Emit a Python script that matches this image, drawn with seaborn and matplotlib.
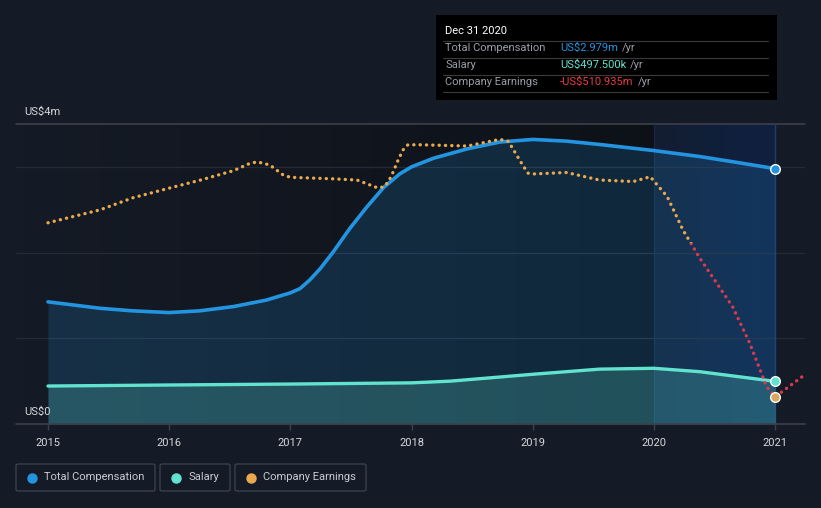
import numpy as np
import pandas as pd
import matplotlib
matplotlib.use('Agg')
import matplotlib.pyplot as plt
import seaborn as sns
from matplotlib.patches import Rectangle, FancyBboxPatch
from matplotlib.lines import Line2D

sns.set_theme(style='dark')
plt.rcParams['font.family'] = ['Roboto', 'DejaVu Sans']

# ------------------------------------------------------------
# data
# ------------------------------------------------------------
comp_years = [2015, 2015.43, 2015.70, 2016, 2016.25, 2016.53, 2016.80, 2017,
              2017.08, 2017.16, 2017.245, 2017.355, 2017.49, 2017.63, 2017.77,
              2017.905, 2018, 2018.18, 2018.46, 2018.73, 2019, 2019.28, 2019.56,
              2020, 2020.38, 2020.65, 2021]
comp_vals = [1.425, 1.35, 1.32, 1.30, 1.32, 1.37, 1.445, 1.53,
             1.58, 1.68, 1.81, 2.01, 2.28, 2.53, 2.76,
             2.92, 3.0, 3.10, 3.21, 3.29, 3.32, 3.30, 3.26,
             3.19, 3.12, 3.06, 2.979]  # US$m

salary_years = [2015, 2016, 2017, 2018, 2018.32, 2019, 2019.55, 2020, 2020.38, 2021]
salary_vals = [0.443, 0.455, 0.466, 0.48, 0.50, 0.58, 0.64, 0.65, 0.61, 0.4975]  # US$m

earn_years = [2015, 2015.43, 2015.70, 2016.0, 2016.26, 2016.53, 2016.67, 2016.73,
              2016.83, 2016.94, 2017.0, 2017.35, 2017.55, 2017.72, 2017.77, 2017.81,
              2017.85, 2017.89, 2017.93, 2017.97, 2018.07, 2018.46, 2018.73, 2018.80,
              2018.90, 2018.96, 2019.0, 2019.28, 2019.55, 2019.83, 2019.97, 2020.11,
              2020.24, 2020.38, 2020.65, 2020.79, 2020.93, 2021.0, 2021.23]
earn_vals = [67, 110, 150, 182, 209, 240, 265, 269,
             259, 226, 218, 213, 209, 183, 186, 204,
             237, 276, 309, 326, 326, 322, 344, 337,
             270, 232, 229, 234, 209, 204, 220, 154,
             43, -51, -212, -332, -477, -511, -442]  # US$m

year_ticks = [2015, 2016, 2017, 2018, 2019, 2020, 2021]

comp_df = pd.DataFrame({'year': comp_years, 'value': comp_vals})
salary_df = pd.DataFrame({'year': salary_years, 'value': salary_vals})
earn_df = pd.DataFrame({'year': earn_years, 'value': earn_vals})

# ------------------------------------------------------------
# colours
# ------------------------------------------------------------
BG = '#151b26'
BLUE = '#2394df'
TEAL = '#62e3cf'
ORANGE = '#e8a94f'
RED = '#dc3a4c'
GRID = '#252b36'
AXLINE = '#3b404a'
TXT = '#d5d8dc'
GREY = '#9a9ea6'

W, H = 821, 508
fig = plt.figure(figsize=(W / 100, H / 100), dpi=100, facecolor=BG)

def fx(px):
    return px / W

def fy(py):
    return 1 - py / H

XMIN, XMAX = 2014.736, 2021.247
YMAX = 3.5

ax = fig.add_axes([fx(16), fy(424), fx(805) - fx(16), fy(124) - fy(424)])
ax.set_facecolor(BG)
ax.set_xlim(XMIN, XMAX)
ax.set_ylim(0, YMAX)

# darker past region (gradient) + highlighted last year band
grad = np.zeros((2, 256, 4))
grad[..., 3] = np.linspace(0.0, 0.38, 256)[None, :]
ax.imshow(grad, extent=[XMIN, 2020, 0, YMAX], aspect='auto', zorder=0.5,
          interpolation='bilinear')
band = np.zeros((2, 256, 4))
band[..., 0] = 0.04
band[..., 1] = 0.15
band[..., 2] = 0.36
band[..., 3] = np.linspace(0.22, 0.5, 256)[None, :]
ax.imshow(band, extent=[2020, 2021, 0, YMAX], aspect='auto', zorder=0.6,
          interpolation='bilinear')

# grid lines
for g in [1, 2, 3]:
    ax.axhline(g, color=GRID, lw=0.9, zorder=1)
ax.axhline(YMAX, color=AXLINE, lw=1.2, zorder=1, clip_on=False)
ax.axhline(0, color=AXLINE, lw=1.2, zorder=6, clip_on=False)
ax.axvline(2020, color='#1b2b42', lw=0.8, zorder=1)
ax.axvline(2021, color='#1f3d66', lw=1.0, zorder=1)

# fills
ax.fill_between(comp_years, comp_vals, color=BLUE, alpha=0.18, lw=0, zorder=2)
ax.fill_between(salary_years, salary_vals, color=TEAL, alpha=0.22, lw=0, zorder=3)

# lines
sns.lineplot(data=comp_df, x='year', y='value', ax=ax, color=BLUE, lw=2.6, zorder=5)
sns.lineplot(data=salary_df, x='year', y='value', ax=ax, color=TEAL, lw=2.4, zorder=5)
for ln in ax.lines[-2:]:
    ln.set_solid_joinstyle('round')

# earnings on a separate (hidden) scale
ax2 = ax.twinx()
ax2.set_ylim(-601, 395)
ax2.set_xlim(XMIN, XMAX)
ax2.patch.set_visible(False)
for side in ax2.spines.values():
    side.set_visible(False)
ax2.set_yticks([])
ax2.set_ylabel('')

for col, lo, hi in [(ORANGE, 0, 2000), (RED, -2000, 0)]:
    sns.lineplot(data=earn_df, x='year', y='value', ax=ax2, color=col, lw=2.4,
                 zorder=4)
    ln = ax2.lines[-1]
    ln.set_linestyle((0, (0.05, 1.85)))
    ln.set_dash_capstyle('round')
    clip = Rectangle((XMIN, lo), XMAX - XMIN, hi - lo, transform=ax2.transData)
    ln.set_clip_path(clip)

# end markers
ax.scatter([comp_years[-1]], [comp_vals[-1]], s=48, color=BLUE, edgecolor='white',
           linewidth=1.0, zorder=10)
ax.scatter([salary_years[-1]], [salary_vals[-1]], s=48, color=TEAL, edgecolor='white',
           linewidth=1.0, zorder=10)
ax2.scatter([2021.0], [earn_vals[earn_years.index(2021.0)]], s=48, color='#d9a560',
            edgecolor='white', linewidth=1.0, zorder=10)

# axes styling
for side in ax.spines.values():
    side.set_visible(False)
ax.set_xticks(year_ticks)
ax.set_xticklabels([str(y) for y in year_ticks], color=TXT, fontsize=8)
ax.set_yticks([])
ax.set_xlabel('')
ax.set_ylabel('')
ax.tick_params(axis='x', length=4, width=1, color=AXLINE, pad=6, bottom=True)
ax.grid(False)
ax2.grid(False)

fig.text(fx(24), fy(112), 'US$4m', color=TXT, fontsize=8, va='center', ha='left')
fig.text(fx(24), fy(412), 'US$0', color=TXT, fontsize=8, va='center', ha='left')

# tooltip box
fig.add_artist(Rectangle((fx(436), fy(100)), fx(777) - fx(436), fy(15) - fy(100),
                         transform=fig.transFigure, facecolor='black', edgecolor='none',
                         zorder=20))
fig.text(fx(445), fy(31), 'Dec 31 2020', color='white', fontsize=8, va='center',
         zorder=21)
for ly in [40.5, 57.5, 74.5, 91.5]:
    fig.add_artist(Line2D([fx(443), fx(768)], [fy(ly), fy(ly)], color='#3a3a3a',
                          lw=0.8, transform=fig.transFigure, zorder=21))
rows = [('Total Compensation', 'US$2.979m', BLUE, 48),
        ('Salary', 'US$497.500k', TEAL, 65),
        ('Company Earnings', '-US$510.935m', '#e83c44', 82)]
renderer = fig.canvas.get_renderer()
for label, val, col, ry in rows:
    fig.text(fx(445), fy(ry), label, color=GREY, fontsize=8, va='center', zorder=21)
    t = fig.text(fx(560), fy(ry), val, color=col, fontsize=8, va='center', zorder=21)
    x_end = t.get_window_extent(renderer=renderer).x1
    fig.text((x_end + 4) / W, fy(ry), '/yr', color=GREY, fontsize=8, va='center',
             zorder=21)

# legend boxes
legend_items = [('Total Compensation', BLUE, 16, 155),
                ('Salary', TEAL, 160, 230),
                ('Company Earnings', ORANGE, 235, 366)]
for name, col, x0, x1 in legend_items:
    fig.add_artist(FancyBboxPatch((fx(x0), fy(491)), fx(x1) - fx(x0), fy(464) - fy(491),
                                  boxstyle='round,pad=0,rounding_size=0.003',
                                  transform=fig.transFigure, facecolor='none',
                                  edgecolor='#3a3f4a', lw=1.0))
    fig.add_artist(Line2D([fx(x0 + 16)], [fy(477.5)], marker='o', markersize=6.5,
                          color=col, lw=0, transform=fig.transFigure))
    fig.text(fx(x0 + 28), fy(477.5), name, color='#c8ccd2', fontsize=8, va='center')

plt.savefig('out.png', dpi=100, facecolor=BG)
plt.close()
